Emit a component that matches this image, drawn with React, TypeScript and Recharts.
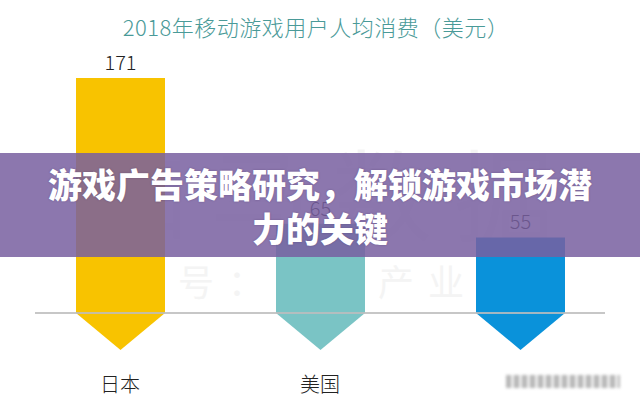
import React from 'react';
import { BarChart, Bar, XAxis, YAxis, ReferenceLine, LabelList } from 'recharts';

// values
const categories = ['日本', '美国', '中国'];
const spending = [171, 65, 55];
const tickLabels = ['日本', '美国', '']; // third label is hidden under a watermark
const barColors = ['#F8C300', '#7AC4C5', '#0A92DA'];

const chartTitle = '2018年移动游戏用户人均消费（美元）';
const bannerLines = ['游戏广告策略研究，解锁游戏市场潜', '力的关键'];

const chartData = categories.map((name, i) => ({ name, value: spending[i], color: barColors[i] }));

const FONT = '"Noto Sans CJK SC", "Noto Sans", sans-serif';

// bar with an arrow point hanging below the baseline
const ArrowBar = (props: any) => {
  const { x, y, width, height, payload } = props;
  const base = y + height;
  const tip = 37;
  const d = `M${x},${y} L${x + width},${y} L${x + width},${base} L${x + width / 2},${base + tip} L${x},${base} Z`;
  return <path d={d} fill={payload.color} />;
};

const CategoryTick = ({ x, y, index }: any) => (
  <text x={x} y={y + 62} textAnchor="middle" dominantBaseline="central"
    style={{ fontFamily: FONT, fontSize: 20, fontWeight: 300, fill: '#222' }}>
    {tickLabels[index]}
  </text>
);

const InsetLine = (p: any) => (
  <line x1={p.x1 + 15} y1={p.y1} x2={p.x2 - 15} y2={p.y2} stroke="#bdbdbd" strokeWidth={2} strokeOpacity={0.85} />
);

export default function App() {
  return (
    <div style={{ position: 'absolute', left: 0, top: 0, width: 640, height: 410, background: '#fff', overflow: 'hidden', fontFamily: FONT }}>
      {/* faint source watermark behind the chart */}
      <div style={{ position: 'absolute', left: 88, top: 118, fontSize: 100, letterSpacing: 22, color: '#f4f4f4', fontWeight: 400, whiteSpace: 'nowrap' }}>
        伽马数据
      </div>
      <div style={{ position: 'absolute', left: 78, top: 254, fontSize: 36, letterSpacing: 14, color: '#f4f4f4', whiteSpace: 'nowrap' }}>
        微信号：游戏产业观察
      </div>

      <div style={{ position: 'absolute', left: 0, top: 10, width: 632, textAlign: 'center', fontSize: 22, fontWeight: 300, color: '#4A9A98', letterSpacing: 0.5 }}>
        {chartTitle}
      </div>

      <div style={{ position: 'absolute', left: 0, top: 0 }}>
        <BarChart width={640} height={410} data={chartData} margin={{ top: 78, right: 20, left: 20, bottom: 0 }}>
          <XAxis dataKey="name" axisLine={false} tickLine={false} height={97} interval={0} tick={<CategoryTick />} />
          <YAxis hide domain={[0, 171]} />
          <Bar dataKey="value" barSize={89} shape={<ArrowBar />} isAnimationActive={false}>
            <LabelList dataKey="value" position="top" offset={8}
              style={{ fontFamily: FONT, fontSize: 20, fontWeight: 300, fill: '#222' }} />
          </Bar>
          <ReferenceLine y={0} shape={<InsetLine />} />
        </BarChart>
      </div>

      {/* blurred watermark at bottom right */}
      <div style={{ position: 'absolute', left: 506, top: 375, width: 114, height: 13, filter: 'blur(1.5px)',
        background: 'repeating-linear-gradient(90deg, #9a9a9a 0 5px, #e6e6e6 5px 8px)', opacity: 0.7 }} />

      {/* overlay banner */}
      <div style={{ position: 'absolute', left: 0, top: 153, width: 640, height: 104, background: 'rgba(120, 95, 160, 0.85)' }} />
      <div style={{ position: 'absolute', left: 0, top: 162, width: 640, textAlign: 'center', color: '#fff', fontSize: 34, fontWeight: 900, lineHeight: '44px', textShadow: '0 0 2px rgba(60,40,90,0.4)' }}>
        {bannerLines.map((l) => <div key={l}>{l}</div>)}
      </div>
    </div>
  );
}
